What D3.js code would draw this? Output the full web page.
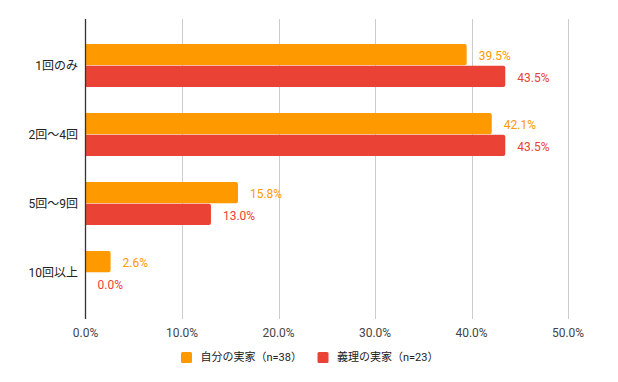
<!DOCTYPE html>
<html>
<head>
<meta charset="utf-8">
<script src="https://cdn.jsdelivr.net/npm/d3@7"></script>
<style>
  body { margin: 0; background: #fff; }
  svg { font-family: Roboto, "Noto Sans CJK JP", sans-serif; }
</style>
</head>
<body>
<div id="chart"></div>
<script>
// data
const categories = ['1回のみ', '2回〜4回', '5回〜9回', '10回以上'];
const seriesNames = ['自分の実家（n=38）', '義理の実家（n=23）'];
const ownHome = [39.5, 42.1, 15.8, 2.6];
const inLawHome = [43.5, 43.5, 13.0, 0.0];
const xTicks = [0, 10, 20, 30, 40, 50];

const COLORS = ['#ff9900', '#ea4335'];
const W = 618, H = 382;
const PLOT = { LEFT: 85.5, RIGHT: 568, TOP: 19, BOTTOM: 319 };

const svg = d3.select('#chart').append('svg')
  .attr('width', W).attr('height', H);

const x = d3.scaleLinear().domain([0, 50]).range([PLOT.LEFT, PLOT.RIGHT]);
const y = d3.scaleBand().domain(categories)
  .range([PLOT.TOP, PLOT.BOTTOM])
  .paddingInner(0.377).paddingOuter(0.362);
const ySub = d3.scaleBand().domain([0, 1])
  .range([0, y.bandwidth()]).paddingInner(0.024);

// gridlines
svg.append('g').selectAll('line')
  .data(xTicks.slice(1))
  .join('line')
  .attr('x1', d => Math.round(x(d)) + 0.5).attr('x2', d => Math.round(x(d)) + 0.5)
  .attr('y1', PLOT.TOP).attr('y2', PLOT.BOTTOM)
  .attr('stroke', '#cccccc').attr('stroke-width', 1);

// x tick labels
svg.append('g').selectAll('text')
  .data(xTicks)
  .join('text')
  .attr('x', d => x(d))
  .attr('y', 333)
  .attr('dy', '0.35em')
  .attr('text-anchor', 'middle')
  .attr('font-size', 12)
  .attr('fill', '#444')
  .text(d => d.toFixed(1) + '%');

// bars with rounded right end
function barPath(x0, y0, w, h, r) {
  r = Math.min(r, w);
  if (w <= 0) return '';
  return `M${x0},${y0}H${x0 + w - r}Q${x0 + w},${y0} ${x0 + w},${y0 + r}` +
    `V${y0 + h - r}Q${x0 + w},${y0 + h} ${x0 + w - r},${y0 + h}H${x0}Z`;
}

const rows = categories.map((c, i) => ({ cat: c, vals: [ownHome[i], inLawHome[i]] }));

const groups = svg.append('g').selectAll('g')
  .data(rows)
  .join('g')
  .attr('transform', d => `translate(0, ${y(d.cat)})`);

groups.selectAll('path')
  .data(d => d.vals.map((v, s) => ({ v, s })))
  .join('path')
  .attr('d', d => barPath(x(0), ySub(d.s), x(d.v) - x(0), ySub.bandwidth(), 2))
  .attr('fill', d => COLORS[d.s]);

// value labels
groups.selectAll('text')
  .data(d => d.vals.map((v, s) => ({ v, s })))
  .join('text')
  .attr('x', d => x(d.v) + 12)
  .attr('y', d => ySub(d.s) + ySub.bandwidth() / 2 + 1)
  .attr('dy', '0.35em')
  .attr('font-size', 12)
  .attr('fill', d => COLORS[d.s])
  .text(d => d.v.toFixed(1) + '%');

// axis line
svg.append('line')
  .attr('x1', PLOT.LEFT).attr('x2', PLOT.LEFT)
  .attr('y1', PLOT.TOP).attr('y2', PLOT.BOTTOM)
  .attr('stroke', '#333').attr('stroke-width', 1.3);

// category labels
svg.append('g').selectAll('text')
  .data(categories)
  .join('text')
  .attr('x', 78)
  .attr('y', d => y(d) + y.bandwidth() / 2)
  .attr('dy', '0.35em')
  .attr('text-anchor', 'end')
  .attr('font-size', 12)
  .attr('fill', '#222')
  .text(d => d);

// legend
const legendX = [181, 317.5];
const legend = svg.append('g').selectAll('g')
  .data(seriesNames)
  .join('g')
  .attr('transform', (d, i) => `translate(${legendX[i]}, 352)`);
legend.append('rect')
  .attr('width', 11).attr('height', 11).attr('rx', 1.5)
  .attr('fill', (d, i) => COLORS[i]);
legend.append('text')
  .attr('x', 19.5).attr('y', 5.5).attr('dy', '0.35em')
  .attr('font-size', 11)
  .attr('fill', '#222')
  .text(d => d);
</script>
</body>
</html>
